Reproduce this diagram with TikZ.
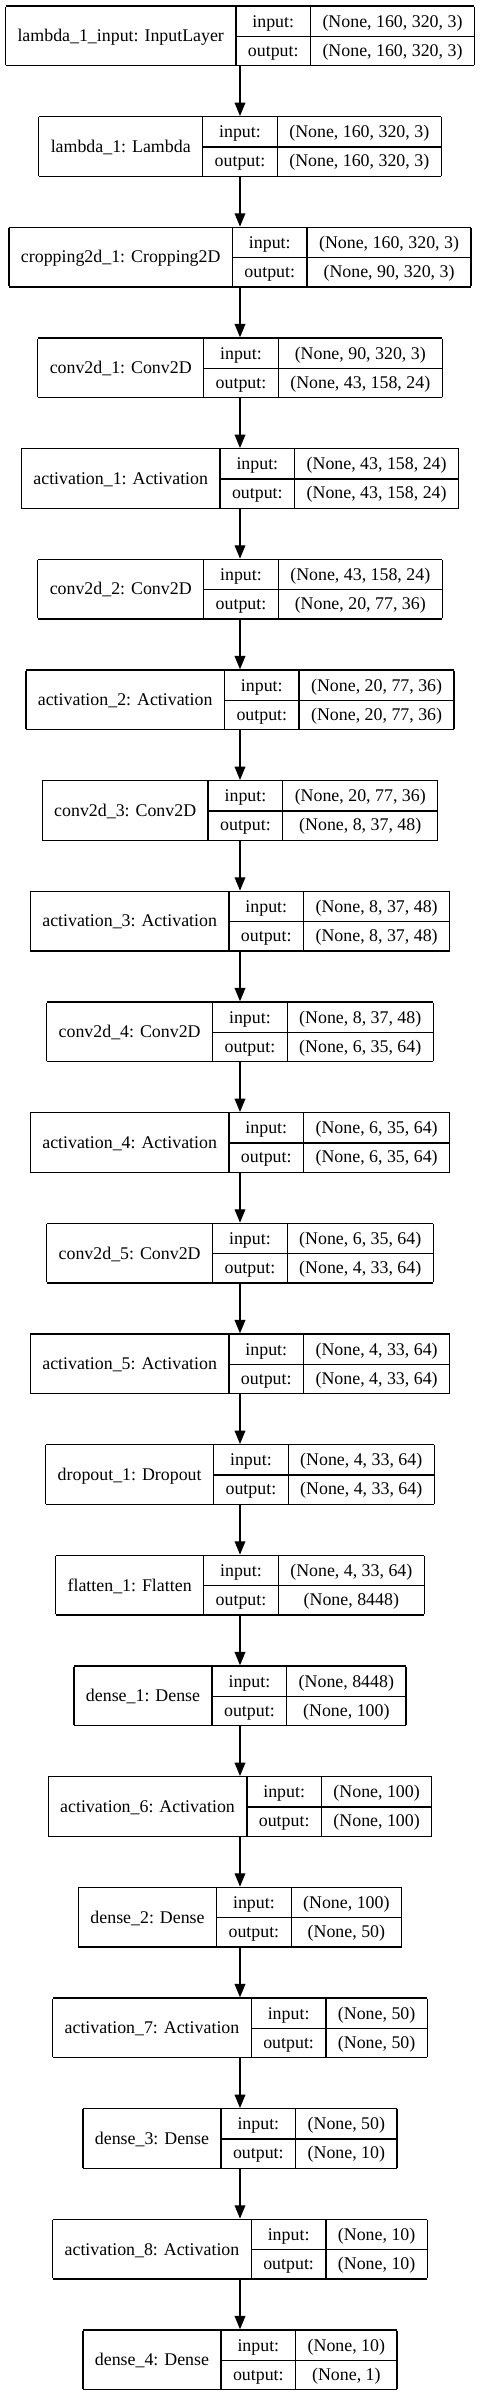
\documentclass[tikz,border=0pt]{standalone}
\usepackage{fontspec}
\setmainfont{Liberation Serif}
\usepackage{tikz}
\usetikzlibrary{positioning,arrows.meta}
\newcommand\recfont{\fontsize{13.4}{15}\selectfont}
\setlength\arrayrulewidth{1pt}
\setlength\tabcolsep{9pt}
\renewcommand\arraystretch{1.4583}
% record: name | input:/output: | shapes
\newcommand\recbody[3]{\begin{tabular}{|c|c|c|}\hline
  \raisebox{-10.94pt}[0pt][0pt]{#1} & input: & #2\\ \cline{2-3}
  & output: & #3\\ \hline
\end{tabular}}
\tikzset{
  rec/.style = {rectangle, inner sep=0pt, outer sep=0pt, font=\recfont},% one layer
  rec_arrow/.style = {-{Triangle[length=10pt,width=8pt]}, line width=1pt}
}

\begin{document}
\begin{tikzpicture}[node distance=37.25pt]
\useasboundingbox (0,0) rectangle (360.75pt,-1797.75pt);

\node [rec, anchor=north] (inp) at (180pt,-4pt) {\recbody{lambda\_1\_input: InputLayer}{(None, 160, 320, 3)}{(None, 160, 320, 3)}};
\node [rec, below=of inp] (lam) {\recbody{lambda\_1: Lambda}{(None, 160, 320, 3)}{(None, 160, 320, 3)}};
\node [rec, below=of lam] (crop) {\recbody{cropping2d\_1: Cropping2D}{(None, 160, 320, 3)}{(None, 90, 320, 3)}};
\node [rec, below=of crop] (conv1) {\recbody{conv2d\_1: Conv2D}{(None, 90, 320, 3)}{(None, 43, 158, 24)}};
\node [rec, below=of conv1] (act1) {\recbody{activation\_1: Activation}{(None, 43, 158, 24)}{(None, 43, 158, 24)}};
\node [rec, below=of act1] (conv2) {\recbody{conv2d\_2: Conv2D}{(None, 43, 158, 24)}{(None, 20, 77, 36)}};
\node [rec, below=of conv2] (act2) {\recbody{activation\_2: Activation}{(None, 20, 77, 36)}{(None, 20, 77, 36)}};
\node [rec, below=of act2] (conv3) {\recbody{conv2d\_3: Conv2D}{(None, 20, 77, 36)}{(None, 8, 37, 48)}};
\node [rec, below=of conv3] (act3) {\recbody{activation\_3: Activation}{(None, 8, 37, 48)}{(None, 8, 37, 48)}};
\node [rec, below=of act3] (conv4) {\recbody{conv2d\_4: Conv2D}{(None, 8, 37, 48)}{(None, 6, 35, 64)}};
\node [rec, below=of conv4] (act4) {\recbody{activation\_4: Activation}{(None, 6, 35, 64)}{(None, 6, 35, 64)}};
\node [rec, below=of act4] (conv5) {\recbody{conv2d\_5: Conv2D}{(None, 6, 35, 64)}{(None, 4, 33, 64)}};
\node [rec, below=of conv5] (act5) {\recbody{activation\_5: Activation}{(None, 4, 33, 64)}{(None, 4, 33, 64)}};
\node [rec, below=of act5] (drop) {\recbody{dropout\_1: Dropout}{(None, 4, 33, 64)}{(None, 4, 33, 64)}};
\node [rec, below=of drop] (flat) {\recbody{flatten\_1: Flatten}{(None, 4, 33, 64)}{(None, 8448)}};
\node [rec, below=of flat] (dense1) {\recbody{dense\_1: Dense}{(None, 8448)}{(None, 100)}};
\node [rec, below=of dense1] (act6) {\recbody{activation\_6: Activation}{(None, 100)}{(None, 100)}};
\node [rec, below=of act6] (dense2) {\recbody{dense\_2: Dense}{(None, 100)}{(None, 50)}};
\node [rec, below=of dense2] (act7) {\recbody{activation\_7: Activation}{(None, 50)}{(None, 50)}};
\node [rec, below=of act7] (dense3) {\recbody{dense\_3: Dense}{(None, 50)}{(None, 10)}};
\node [rec, below=of dense3] (act8) {\recbody{activation\_8: Activation}{(None, 10)}{(None, 10)}};
\node [rec, below=of act8] (dense4) {\recbody{dense\_4: Dense}{(None, 10)}{(None, 1)}};

% connections
\draw [rec_arrow] (inp) -- (lam);
\draw [rec_arrow] (lam) -- (crop);
\draw [rec_arrow] (crop) -- (conv1);
\draw [rec_arrow] (conv1) -- (act1);
\draw [rec_arrow] (act1) -- (conv2);
\draw [rec_arrow] (conv2) -- (act2);
\draw [rec_arrow] (act2) -- (conv3);
\draw [rec_arrow] (conv3) -- (act3);
\draw [rec_arrow] (act3) -- (conv4);
\draw [rec_arrow] (conv4) -- (act4);
\draw [rec_arrow] (act4) -- (conv5);
\draw [rec_arrow] (conv5) -- (act5);
\draw [rec_arrow] (act5) -- (drop);
\draw [rec_arrow] (drop) -- (flat);
\draw [rec_arrow] (flat) -- (dense1);
\draw [rec_arrow] (dense1) -- (act6);
\draw [rec_arrow] (act6) -- (dense2);
\draw [rec_arrow] (dense2) -- (act7);
\draw [rec_arrow] (act7) -- (dense3);
\draw [rec_arrow] (dense3) -- (act8);
\draw [rec_arrow] (act8) -- (dense4);
\end{tikzpicture}
\end{document}
